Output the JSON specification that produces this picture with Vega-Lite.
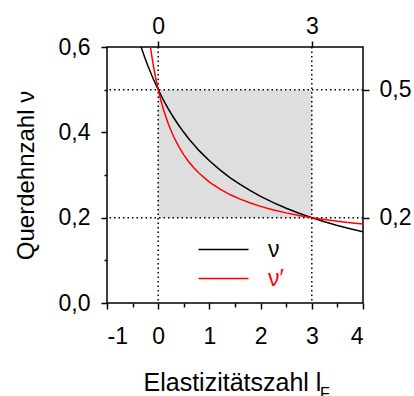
{
  "$schema": "https://vega.github.io/schema/vega-lite/v6.json",
  "width": 256,
  "height": 256,
  "autosize": "none",
  "padding": {"left": 107, "top": 47, "right": 51, "bottom": 93},
  "config": {
    "view": {"stroke": "black", "strokeWidth": 1.5},
    "font": "Liberation Sans",
    "axis": {
      "domain": false, "grid": false,
      "labelFont": "Liberation Sans", "titleFont": "Liberation Sans",
      "labelFontSize": 23, "titleFontSize": 24, "titleFontWeight": "normal",
      "labelColor": "black", "titleColor": "black", "tickColor": "black", "tickWidth": 1.5
    },
    "legend": {"labelFont": "Liberation Sans"}
  },
  "datasets": {
    "box": [{"x1": 0, "x2": 3, "y1": 0.2, "y2": 0.5}],
    "vlines": [{"l": 0}, {"l": 3}],
    "hlines": [{"nu": 0.5}, {"nu": 0.2}],
    "curves": [
      {"curve": "ν", "l": -0.333, "nu": 0.6},
      {"curve": "ν", "l": -0.3, "nu": 0.5882},
      {"curve": "ν", "l": -0.25, "nu": 0.5714},
      {"curve": "ν", "l": -0.2, "nu": 0.5556},
      {"curve": "ν", "l": -0.1, "nu": 0.5263},
      {"curve": "ν", "l": 0, "nu": 0.5},
      {"curve": "ν", "l": 0.1, "nu": 0.4762},
      {"curve": "ν", "l": 0.2, "nu": 0.4545},
      {"curve": "ν", "l": 0.3, "nu": 0.4348},
      {"curve": "ν", "l": 0.4, "nu": 0.4167},
      {"curve": "ν", "l": 0.5, "nu": 0.4},
      {"curve": "ν", "l": 0.6, "nu": 0.3846},
      {"curve": "ν", "l": 0.8, "nu": 0.3571},
      {"curve": "ν", "l": 1.0, "nu": 0.3333},
      {"curve": "ν", "l": 1.2, "nu": 0.3125},
      {"curve": "ν", "l": 1.4, "nu": 0.2941},
      {"curve": "ν", "l": 1.6, "nu": 0.2778},
      {"curve": "ν", "l": 1.8, "nu": 0.2632},
      {"curve": "ν", "l": 2.0, "nu": 0.25},
      {"curve": "ν", "l": 2.25, "nu": 0.2353},
      {"curve": "ν", "l": 2.5, "nu": 0.2222},
      {"curve": "ν", "l": 2.75, "nu": 0.2105},
      {"curve": "ν", "l": 3.0, "nu": 0.2},
      {"curve": "ν", "l": 3.25, "nu": 0.1905},
      {"curve": "ν", "l": 3.5, "nu": 0.1818},
      {"curve": "ν", "l": 3.75, "nu": 0.1739},
      {"curve": "ν", "l": 4.0, "nu": 0.1667},
      {"curve": "ν′", "l": -0.152, "nu": 0.6},
      {"curve": "ν′", "l": -0.12, "nu": 0.5748},
      {"curve": "ν′", "l": -0.08, "nu": 0.5467},
      {"curve": "ν′", "l": -0.04, "nu": 0.522},
      {"curve": "ν′", "l": 0, "nu": 0.5},
      {"curve": "ν′", "l": 0.05, "nu": 0.4758},
      {"curve": "ν′", "l": 0.1, "nu": 0.4545},
      {"curve": "ν′", "l": 0.15, "nu": 0.4357},
      {"curve": "ν′", "l": 0.2, "nu": 0.4189},
      {"curve": "ν′", "l": 0.3, "nu": 0.3903},
      {"curve": "ν′", "l": 0.4, "nu": 0.3669},
      {"curve": "ν′", "l": 0.5, "nu": 0.3473},
      {"curve": "ν′", "l": 0.6, "nu": 0.3306},
      {"curve": "ν′", "l": 0.7, "nu": 0.3164},
      {"curve": "ν′", "l": 0.8, "nu": 0.304},
      {"curve": "ν′", "l": 1.0, "nu": 0.2835},
      {"curve": "ν′", "l": 1.2, "nu": 0.2673},
      {"curve": "ν′", "l": 1.4, "nu": 0.2542},
      {"curve": "ν′", "l": 1.6, "nu": 0.2434},
      {"curve": "ν′", "l": 1.8, "nu": 0.2342},
      {"curve": "ν′", "l": 2.0, "nu": 0.2264},
      {"curve": "ν′", "l": 2.25, "nu": 0.2182},
      {"curve": "ν′", "l": 2.5, "nu": 0.2112},
      {"curve": "ν′", "l": 2.75, "nu": 0.2052},
      {"curve": "ν′", "l": 3.0, "nu": 0.2},
      {"curve": "ν′", "l": 3.25, "nu": 0.1956},
      {"curve": "ν′", "l": 3.5, "nu": 0.1916},
      {"curve": "ν′", "l": 3.75, "nu": 0.1881},
      {"curve": "ν′", "l": 4.0, "nu": 0.1849}
    ],
    "subscript": [{"sub": "F"}]
  },
  "layer": [
    {
      "data": {"name": "box"},
      "mark": {"type": "rect", "color": "#dedede"},
      "encoding": {
        "x": {
          "field": "x1", "type": "quantitative",
          "scale": {"domain": [-1, 4], "nice": false, "zero": false},
          "axis": {
            "orient": "bottom",
            "values": [-1, -0.5, 0, 0.5, 1, 1.5, 2, 2.5, 3, 3.5, 4],
            "labelExpr": "datum.value % 1 == 0 ? '' + datum.value : ''",
            "tickSize": {"condition": {"test": "datum.value % 1 == 0", "value": 6}, "value": 4},
            "labelPadding": 16,
            "title": "Elastizitätszahl l",
            "titleFontSize": 25,
            "titleX": 36, "titleAlign": "left",
            "titlePadding": 22
          }
        },
        "x2": {"field": "x2"},
        "y": {
          "field": "y1", "type": "quantitative",
          "scale": {"domain": [0, 0.6], "nice": false, "zero": false},
          "axis": {
            "orient": "left",
            "values": [0, 0.1, 0.2, 0.3, 0.4, 0.5, 0.6],
            "labelExpr": "round(datum.value * 10) % 2 == 0 ? replace(format(datum.value, '.1f'), '.', ',') : ''",
            "tickSize": {"condition": {"test": "round(datum.value * 10) % 2 == 0", "value": 6}, "value": 3},
            "labelPadding": 11,
            "title": "Querdehnzahl ν",
            "titlePadding": 20
          }
        },
        "y2": {"field": "y2"}
      }
    },
    {
      "data": {"name": "vlines"},
      "mark": {"type": "rule", "color": "black", "strokeWidth": 1.5, "strokeDash": [1.5, 3]},
      "encoding": {
        "x": {
          "field": "l", "type": "quantitative",
          "scale": {"domain": [-1, 4], "nice": false, "zero": false},
          "axis": {
            "orient": "top", "values": [0, 3],
            "labelExpr": "'' + datum.value",
            "tickSize": 6, "labelPadding": 3, "title": null
          }
        }
      }
    },
    {
      "data": {"name": "hlines"},
      "mark": {"type": "rule", "color": "black", "strokeWidth": 1.5, "strokeDash": [1.5, 3]},
      "encoding": {
        "y": {
          "field": "nu", "type": "quantitative",
          "scale": {"domain": [0, 0.6], "nice": false, "zero": false},
          "axis": {
            "orient": "right", "values": [0.2, 0.5],
            "labelExpr": "replace(format(datum.value, '.1f'), '.', ',')",
            "tickSize": 6, "labelPadding": 10, "title": null
          }
        }
      }
    },
    {
      "data": {"name": "curves"},
      "mark": {"type": "line", "strokeWidth": 1.5, "clip": true},
      "encoding": {
        "x": {"field": "l", "type": "quantitative", "scale": {"domain": [-1, 4], "nice": false, "zero": false}, "axis": null},
        "y": {"field": "nu", "type": "quantitative", "scale": {"domain": [0, 0.6], "nice": false, "zero": false}, "axis": null},
        "color": {
          "field": "curve", "type": "nominal",
          "scale": {"domain": ["ν", "ν′"], "range": ["black", "#ff0000"]},
          "legend": {
            "orient": "none", "legendX": 105, "legendY": 191,
            "title": null, "padding": 0,
            "symbolType": "M-5,0H5", "symbolSize": 100, "symbolStrokeWidth": 1.5,
            "labelFontSize": 23, "labelOffset": 33, "rowPadding": 5,
            "encode": {"labels": {"update": {"fill": {"signal": "datum.value === 'ν′' ? '#ff0000' : 'black'"}}}}
          }
        }
      }
    },
    {
      "data": {"name": "subscript"},
      "mark": {"type": "text", "align": "left", "baseline": "alphabetic", "fontSize": 16, "font": "Liberation Sans", "color": "black"},
      "encoding": {
        "x": {"datum": 3.16, "type": "quantitative", "scale": {"domain": [-1, 4], "nice": false, "zero": false}, "axis": null},
        "y": {"datum": -0.226, "type": "quantitative", "scale": {"domain": [0, 0.6], "nice": false, "zero": false}, "axis": null},
        "text": {"field": "sub"}
      }
    }
  ],
  "resolve": {"axis": {"x": "independent", "y": "independent"}}
}
